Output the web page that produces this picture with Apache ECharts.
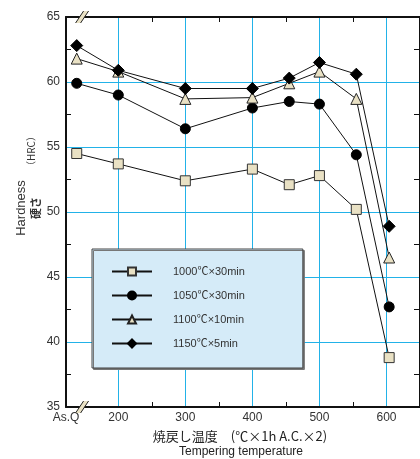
<!DOCTYPE html>
<html><head><meta charset="utf-8">
<script src="https://cdn.jsdelivr.net/npm/echarts@6/dist/echarts.min.js"></script>
<style>html,body{margin:0;padding:0;background:#fff}#c{width:420px;height:459px}</style>
</head><body><div id="c"></div>
<script>
// ---- data ----
const temps = [138, 200, 300, 400, 455, 500, 555, 604];
const seriesNames = ['1000℃×30min', '1050℃×30min', '1100℃×10min', '1150℃×5min'];
const s1000 = [54.5, 53.7, 52.4, 53.3, 52.1, 52.8, 50.2, 38.8];
const s1050 = [59.9, 59.0, 56.4, 58.0, 58.5, 58.3, 54.4, 42.7];
const s1100 = [61.8, 60.8, 58.7, 58.8, 59.9, 60.8, 58.7, 46.5];
const s1150 = [62.8, 60.9, 59.5, 59.5, 60.3, 61.5, 60.6, 48.9];
const xLabelValues = [122, 200, 300, 400, 500, 600];
const xLabelTexts = ['As.Q', '200', '300', '400', '500', '600'];
const xGridValues = [200, 300, 400, 500, 600];
const xMinorTicks = [250, 350, 450, 550];

const X_MIN = 122, X_MAX = 650;
const beige = '#e9e1c4';
const gridBlue = '#22b2e8';
const font = '"Liberation Sans", "Noto Sans CJK JP", sans-serif';

const chart = echarts.init(document.getElementById('c'));
const markers = [
  {symbol: 'rect', size: 10, color: beige, border: '#333'},
  {symbol: 'circle', size: 10, color: '#000', border: '#000'},
  {symbol: 'triangle', size: 11, color: beige, border: '#222'},
  {symbol: 'diamond', size: 12, color: '#000', border: '#000'}
];
const allData = [s1000, s1050, s1100, s1150];

const series = allData.map((arr, i) => ({
  name: seriesNames[i],
  type: 'line',
  xAxisIndex: 0, yAxisIndex: 0,
  data: arr.map((v, j) => [temps[j], v]),
  symbol: markers[i].symbol,
  symbolSize: markers[i].size,
  showAllSymbol: true,
  lineStyle: {color: '#111', width: 1},
  itemStyle: {color: markers[i].color, borderColor: markers[i].border, borderWidth: 1, opacity: 1},
  emphasis: {disabled: true},
  animation: false,
  z: 3 + i
}));

const baseX = {type: 'value', min: X_MIN, max: X_MAX, gridIndex: 0};
chart.setOption({
  animation: false,
  grid: {left: 66, top: 17, right: -3, bottom: 52},
  xAxis: [
    Object.assign({}, baseX, {
      position: 'bottom',
      axisLine: {show: true, onZero: false, lineStyle: {color: '#111', width: 2}},
      axisTick: {show: true, inside: true, length: 5, customValues: xMinorTicks, lineStyle: {color: '#111', width: 1}},
      axisLabel: {customValues: xLabelValues, formatter: v => xLabelTexts[xLabelValues.indexOf(v)] || '',
        color: '#333', fontSize: 12, fontFamily: font, margin: 5},
      splitLine: {show: false}
    }),
    Object.assign({}, baseX, {
      position: 'bottom',
      axisLine: {show: false},
      axisTick: {show: false, customValues: xGridValues},
      axisLabel: {show: false},
      splitLine: {show: true, lineStyle: {color: gridBlue, width: 1}}
    }),
    Object.assign({}, baseX, {
      position: 'top',
      axisLine: {show: true, onZero: false, lineStyle: {color: '#111', width: 2}},
      axisTick: {show: true, inside: true, length: 5, customValues: xMinorTicks, lineStyle: {color: '#111', width: 1}},
      axisLabel: {show: false},
      splitLine: {show: false}
    })
  ],
  yAxis: [
    {
      type: 'value', min: 35, max: 65, interval: 5, position: 'left',
      axisLine: {show: true, onZero: false, lineStyle: {color: '#111', width: 2}},
      axisTick: {show: false, inside: true},
      minorTick: {show: true, splitNumber: 2, length: 5, lineStyle: {color: '#111', width: 1}},
      axisLabel: {color: '#333', fontSize: 12, fontFamily: font, margin: 6},
      splitLine: {show: true, lineStyle: {color: gridBlue, width: 1}},
      minorSplitLine: {show: false}
    },
    {
      type: 'value', min: 35, max: 65, interval: 5, position: 'right',
      axisLine: {show: true, onZero: false, lineStyle: {color: '#111', width: 2}},
      axisTick: {show: false, inside: true},
      minorTick: {show: true, splitNumber: 2, length: 6, lineStyle: {color: '#111', width: 1}},
      axisLabel: {show: false},
      splitLine: {show: false}
    }
  ],
  legend: {
    orient: 'vertical',
    left: 92, top: 249,
    data: seriesNames,
    itemWidth: 40, itemHeight: 10, itemGap: 13,
    padding: [17, 58, 19, 19],
    backgroundColor: '#d5ebf8',
    borderColor: '#444', borderWidth: 1,
    shadowColor: '#777', shadowOffsetX: 1.5, shadowOffsetY: 1.5, shadowBlur: 0,
    textStyle: {color: '#333', fontSize: 11, fontFamily: font, padding: [0, 0, 0, 16]},
    selectedMode: false
  },
  series: series
});

// decorations: axis break marks and axis titles
const brk = 146;
const pTop = chart.convertToPixel({gridIndex: 0}, [brk, 65]);
const pBot = chart.convertToPixel({gridIndex: 0}, [brk, 35]);
function breakMark(p) {
  const cx = p[0], cy = p[1];
  const A = [cx - 6.5, cy + 6], B = [cx + 1.5, cy - 6], C = [cx + 6.5, cy - 6], D = [cx - 1.5, cy + 6];
  return [
    {type: 'polygon', shape: {points: [A, B, C, D]}, style: {fill: beige, stroke: null}, z: 100},
    {type: 'line', shape: {x1: A[0], y1: A[1], x2: B[0], y2: B[1]}, style: {stroke: '#222', lineWidth: 1}, z: 101},
    {type: 'line', shape: {x1: D[0], y1: D[1], x2: C[0], y2: C[1]}, style: {stroke: '#222', lineWidth: 1}, z: 101}
  ];
}
chart.setOption({
  graphic: [].concat(breakMark(pTop), breakMark(pBot), [
    {type: 'text', x: 21, y: 208, rotation: Math.PI / 2,
      style: {text: 'Hardness', fontSize: 13, fontFamily: font, fill: '#333', align: 'center', verticalAlign: 'middle'}},
    {type: 'text', x: 36, y: 208, rotation: Math.PI / 2,
      style: {text: '硬さ', fontSize: 11, fontWeight: 'bold', fontFamily: '"Noto Sans CJK JP", sans-serif', fill: '#333', align: 'center', verticalAlign: 'middle'}},
    {type: 'text', x: 31, y: 151, rotation: Math.PI / 2,
      style: {text: '（HRC）', fontSize: 10, fontFamily: '"Noto Sans CJK JP", sans-serif', fill: '#333', align: 'center', verticalAlign: 'middle'}},
    {type: 'text', x: 240, y: 436,
      style: {text: '焼戻し温度　(℃×1h A.C.×2)', fontSize: 13, fontFamily: '"Noto Sans CJK JP", sans-serif', fill: '#222', align: 'center', verticalAlign: 'middle'}},
    {type: 'text', x: 241, y: 452,
      style: {text: 'Tempering temperature', fontSize: 12, fontFamily: font, fill: '#222', align: 'center', verticalAlign: 'middle'}}
  ])
});
</script></body></html>
